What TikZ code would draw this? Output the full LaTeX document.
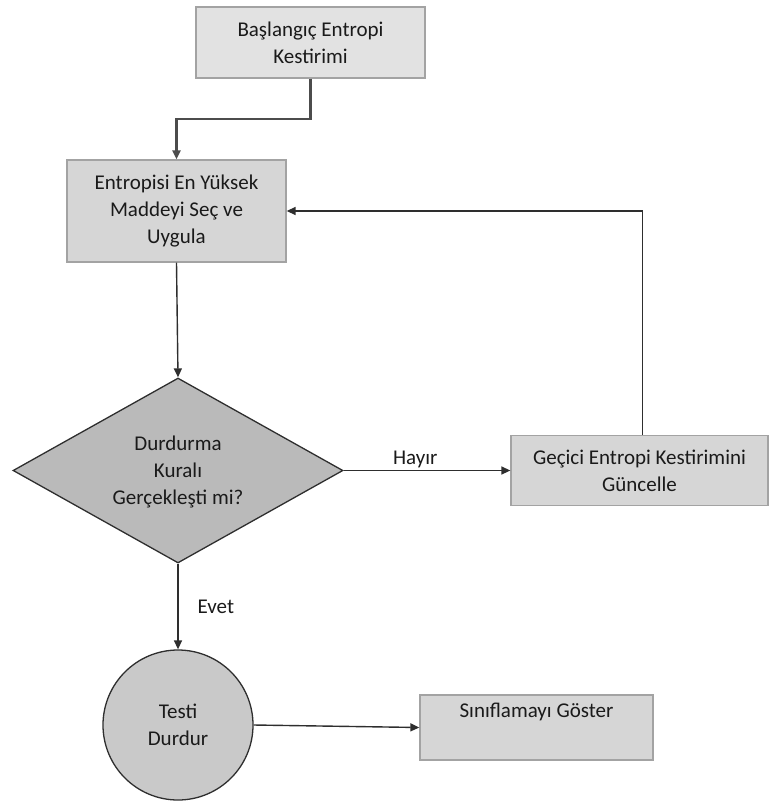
\documentclass[tikz,border=0pt]{standalone}
\usepackage{fontspec}
\setmainfont{Carlito}
\usetikzlibrary{shapes.geometric,arrows.meta}
\definecolor{lightfill}{HTML}{E2E2E2}
\definecolor{boxfill}{HTML}{D6D6D6}
\definecolor{decfill}{HTML}{BABABA}
\definecolor{circfill}{HTML}{C9C9C9}
\definecolor{boxline}{HTML}{A3A3A3}
\definecolor{darkline}{HTML}{2E2E2E}
\definecolor{txt}{HTML}{1A1A1A}
\begin{document}
\begin{tikzpicture}[x=1pt,y=-1pt,
  every node/.style={text=txt},
  txtfont/.style={font=\fontsize{21}{27}\selectfont},
  procbox/.style={draw=boxline, line width=1.3pt, fill=#1, inner sep=0pt, align=center, txtfont},
  decshape/.style={diamond, draw=darkline, line width=1.3pt, fill=decfill, inner sep=0pt, aspect=1.78},
  stopshape/.style={circle, draw=darkline, line width=1.3pt, fill=circfill, inner sep=0pt, align=center, txtfont},
  conn/.style={draw=darkline, line width=1.4pt, -{Triangle[length=9pt,width=8pt]}},
  lbl/.style={txtfont, inner sep=2pt}]
\useasboundingbox (0,0) rectangle (769,803);

\node[procbox=lightfill, minimum width=229pt, minimum height=71pt] (b1) at (310.5,42.5) {Başlangıç Entropi\\Kestirimi};
\node[procbox=boxfill, minimum width=219pt, minimum height=102pt] (b2) at (176.5,211) {Entropisi En Yüksek\\Maddeyi Seç ve\\Uygula};
\node[decshape, minimum width=330pt, minimum height=185pt] (dec) at (178,470.5) {};
\node[txtfont, align=center, inner sep=0pt] (dect) at (178,472) {Durdurma\\Kuralı\\Gerçekleşti mi?};
\node[procbox=boxfill, minimum width=257pt, minimum height=70pt] (b3) at (639.5,470.5) {Geçici Entropi Kestirimini\\Güncelle};
\node[stopshape, minimum size=150pt] (stop) at (178,725) {Testi\\Durdur};
\node[procbox=boxfill, minimum width=233pt, minimum height=65pt] (b4) at (536.5,727.5) {};
\node[txtfont, inner sep=0pt] (b4t) at (536.5,712) {Sınıflamayı Göster};

\draw[conn, draw=black!70, line width=2.2pt] (b1.south) -- ++(0,40) -| (b2.north);
\draw[conn] (b2.south) -- (dec.north);
\draw[conn] (dec.east) -- (b3.west) node[lbl, pos=0.43, above] (hayir) {Hayır};
\draw[conn] ([xshift=3pt]b3.north) |- (b2.east);
\draw[conn] (dec.south) -- (stop.north) node[lbl, pos=0.5, right, xshift=17pt] (evet) {Evet};
\draw[conn] (stop.east) -- (b4.west);
\end{tikzpicture}
\end{document}
